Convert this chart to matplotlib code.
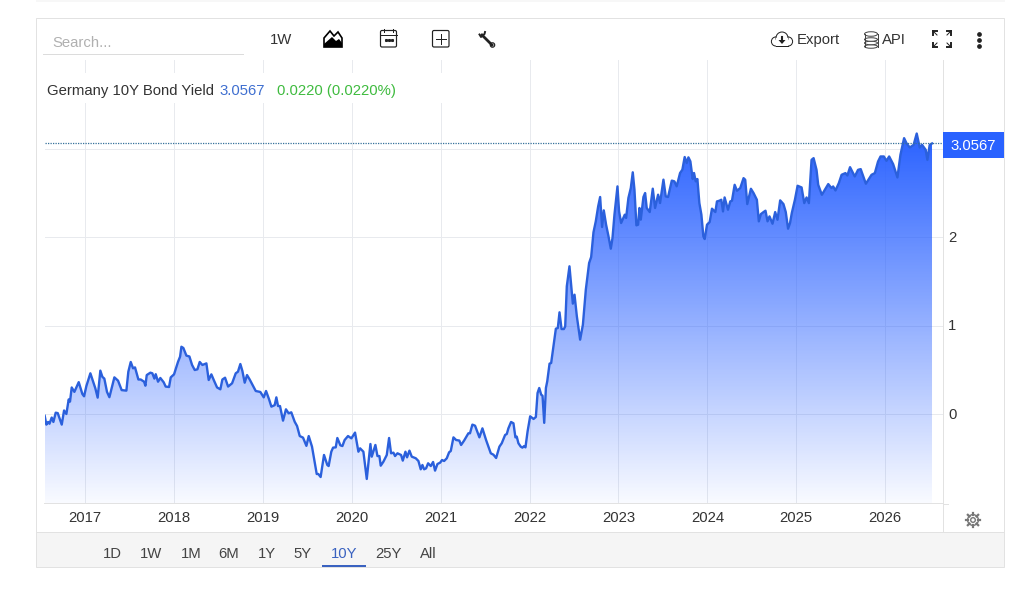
# -*- coding: utf-8 -*-
"""
Germany 10Y bond yield, area chart inside a trading widget frame
"""
# =============================     Import modules     =================
import numpy as np
import matplotlib
matplotlib.use('Agg')
import matplotlib.pyplot as plt
from matplotlib.patches import Rectangle, Polygon, Circle, Ellipse, FancyBboxPatch
from matplotlib.transforms import ScaledTranslation

# =============================     Chart data     =======================
# -- decimal years and yields
years_a = [2016.546, 2016.565, 2016.584, 2016.60, 2016.625, 2016.644, 2016.67, 2016.693, 2016.738, 2016.764,
           2016.79, 2016.816, 2016.831, 2016.85, 2016.88, 2016.929, 2016.97, 2016.989, 2017.015, 2017.06,
           2017.116, 2017.142, 2017.172, 2017.195, 2017.217, 2017.247, 2017.274, 2017.33, 2017.371, 2017.412,
           2017.465, 2017.487, 2017.514, 2017.54, 2017.562, 2017.60, 2017.626, 2017.664, 2017.679, 2017.694,
           2017.735, 2017.757, 2017.78, 2017.795, 2017.821, 2017.847, 2017.885, 2017.907, 2017.945, 2017.964,
           2018.001, 2018.046, 2018.069, 2018.084, 2018.106, 2018.14, 2018.174, 2018.204, 2018.234, 2018.264,
           2018.29, 2018.32, 2018.365, 2018.391, 2018.421, 2018.451, 2018.485, 2018.522, 2018.545, 2018.575,
           2018.609, 2018.654, 2018.695, 2018.72, 2018.747, 2018.77, 2018.796, 2018.822, 2018.852, 2018.92,
           2018.972, 2019.01, 2019.036, 2019.07, 2019.096, 2019.133, 2019.152, 2019.171, 2019.193, 2019.227,
           2019.26, 2019.29, 2019.32, 2019.358, 2019.385, 2019.415, 2019.452, 2019.49, 2019.516, 2019.553,
           2019.606, 2019.624, 2019.65, 2019.688, 2019.725, 2019.74, 2019.77, 2019.79, 2019.82, 2019.838,
           2019.872, 2019.895, 2019.92, 2019.958, 2019.996]
values_a = [-0.02, -0.12, -0.09, -0.11, -0.04, -0.09, 0.015, 0.01, -0.12, 0.04,
            0.0, 0.165, 0.14, 0.30, 0.25, 0.36, 0.226, 0.20, 0.316, 0.46,
            0.29, 0.185, 0.49, 0.42, 0.40, 0.25, 0.19, 0.414, 0.377, 0.27,
            0.264, 0.478, 0.588, 0.516, 0.527, 0.39, 0.39, 0.365, 0.32, 0.44,
            0.467, 0.46, 0.40, 0.45, 0.365, 0.407, 0.358, 0.31, 0.305, 0.414,
            0.448, 0.59, 0.648, 0.76, 0.746, 0.66, 0.65, 0.554, 0.497, 0.505,
            0.588, 0.554, 0.572, 0.384, 0.448, 0.377, 0.30, 0.279, 0.39, 0.41,
            0.31, 0.347, 0.46, 0.478, 0.565, 0.486, 0.354, 0.44, 0.39, 0.26,
            0.249, 0.188, 0.26, 0.166, 0.083, 0.10, 0.188, 0.09, 0.09, -0.075,
            0.053, 0.008, 0.019, -0.087, -0.136, -0.249, -0.267, -0.36, -0.249, -0.369,
            -0.678, -0.678, -0.712, -0.463, -0.576, -0.588, -0.426, -0.38, -0.377, -0.271,
            -0.354, -0.362, -0.294, -0.249, -0.275]

years_b = [2020.037, 2020.075, 2020.094, 2020.131, 2020.169, 2020.21, 2020.225, 2020.266, 2020.289, 2020.311,
           2020.326, 2020.356, 2020.394, 2020.42, 2020.442, 2020.469, 2020.487, 2020.514, 2020.555, 2020.574,
           2020.604, 2020.622, 2020.649, 2020.675, 2020.72, 2020.75, 2020.776, 2020.795, 2020.814, 2020.836,
           2020.859, 2020.889, 2020.915, 2020.937, 2020.964, 2020.994, 2021.016, 2021.039, 2021.069, 2021.095,
           2021.114, 2021.144, 2021.174, 2021.21, 2021.23, 2021.264, 2021.312, 2021.33, 2021.357, 2021.387,
           2021.436, 2021.47, 2021.511, 2021.564, 2021.594, 2021.624, 2021.661, 2021.687, 2021.725, 2021.744,
           2021.762, 2021.792, 2021.819, 2021.841, 2021.856, 2021.875, 2021.901, 2021.92, 2021.939, 2021.954,
           2021.978]
values_b = [-0.21, -0.426, -0.388, -0.426, -0.734, -0.339, -0.482, -0.35, -0.475, -0.475,
            -0.584, -0.539, -0.463, -0.271, -0.444, -0.437, -0.475, -0.444, -0.463, -0.527,
            -0.426, -0.49, -0.414, -0.482, -0.50, -0.531, -0.625, -0.576, -0.625, -0.614,
            -0.557, -0.588, -0.542, -0.64, -0.565, -0.55, -0.52, -0.531, -0.50, -0.433,
            -0.418, -0.264, -0.294, -0.30, -0.35, -0.30, -0.218, -0.218, -0.12, -0.132,
            -0.264, -0.162, -0.294, -0.444, -0.46, -0.497, -0.369, -0.331, -0.237, -0.226,
            -0.162, -0.09, -0.105, -0.264, -0.256, -0.331, -0.369, -0.38, -0.362, -0.377,
            -0.196]

years_c = [2022.007, 2022.045, 2022.071, 2022.09, 2022.109, 2022.131, 2022.146, 2022.165, 2022.184, 2022.199,
           2022.225, 2022.243, 2022.296, 2022.318, 2022.337, 2022.36, 2022.386, 2022.401, 2022.419, 2022.449,
           2022.487, 2022.506, 2022.532, 2022.569, 2022.6, 2022.633, 2022.67, 2022.693, 2022.719, 2022.745,
           2022.772, 2022.794, 2022.816, 2022.835, 2022.861, 2022.888, 2022.914, 2022.933, 2022.955, 2022.989,
           2023.007, 2023.03, 2023.071, 2023.086, 2023.112, 2023.139, 2023.161, 2023.18, 2023.202, 2023.221,
           2023.236, 2023.251, 2023.281, 2023.3, 2023.318, 2023.352, 2023.386, 2023.412, 2023.446, 2023.468,
           2023.506, 2023.532, 2023.558, 2023.6, 2023.629, 2023.655, 2023.693, 2023.719, 2023.745, 2023.768,
           2023.787, 2023.809, 2023.835, 2023.85, 2023.869, 2023.888, 2023.91, 2023.933, 2023.955, 2023.97]
values_c = [-0.026, -0.056, -0.034, 0.237, 0.294, 0.218, 0.207, -0.10, 0.294, 0.369,
            0.569, 0.576, 0.964, 0.972, 1.149, 0.96, 0.96, 0.99, 1.443, 1.669,
            1.247, 1.348, 1.104, 0.84, 1.009, 1.405, 1.706, 1.774, 2.053, 2.177,
            2.347, 2.452, 2.113, 2.301, 2.139, 2.008, 1.868, 1.989, 2.252, 2.572,
            2.29, 2.158, 2.252, 2.215, 2.441, 2.554, 2.731, 2.535, 2.132, 2.139,
            2.328, 2.196, 2.452, 2.497, 2.328, 2.282, 2.546, 2.328, 2.478, 2.384,
            2.648, 2.459, 2.452, 2.637, 2.629, 2.573, 2.723, 2.761, 2.904, 2.836,
            2.9, 2.855, 2.655, 2.723, 2.629, 2.655, 2.384, 2.252, 2.008, 1.977]

years_d = [2023.996, 2024.026, 2024.052, 2024.09, 2024.108, 2024.135, 2024.157, 2024.176, 2024.194, 2024.232,
           2024.258, 2024.277, 2024.307, 2024.333, 2024.37, 2024.407, 2024.426, 2024.449, 2024.49, 2024.52,
           2024.557, 2024.579, 2024.602, 2024.632, 2024.654, 2024.677, 2024.699, 2024.733, 2024.763, 2024.789,
           2024.819, 2024.856, 2024.882, 2024.908, 2024.93, 2024.95, 2024.985, 2025.015, 2025.06, 2025.09,
           2025.116, 2025.142, 2025.172, 2025.195, 2025.228, 2025.247, 2025.288, 2025.322, 2025.36, 2025.396,
           2025.415, 2025.441, 2025.479, 2025.51, 2025.553, 2025.575, 2025.605, 2025.658, 2025.695, 2025.725,
           2025.783, 2025.847, 2025.884, 2025.92, 2025.948, 2025.985, 2026.015, 2026.045, 2026.09, 2026.138,
           2026.172, 2026.213, 2026.24, 2026.277, 2026.32, 2026.355, 2026.389, 2026.415, 2026.456, 2026.475,
           2026.501, 2026.527]
values_d = [2.139, 2.169, 2.32, 2.282, 2.402, 2.41, 2.421, 2.289, 2.447, 2.308,
            2.402, 2.41, 2.59, 2.523, 2.553, 2.665, 2.647, 2.372, 2.545, 2.496,
            2.421, 2.177, 2.259, 2.282, 2.297, 2.177, 2.233, 2.15, 2.282, 2.195,
            2.414, 2.372, 2.282, 2.094, 2.158, 2.271, 2.421, 2.579, 2.56, 2.383,
            2.447, 2.383, 2.872, 2.891, 2.759, 2.59, 2.477, 2.534, 2.598, 2.553,
            2.571, 2.526, 2.609, 2.703, 2.722, 2.695, 2.789, 2.684, 2.759, 2.767,
            2.602, 2.703, 2.722, 2.853, 2.91, 2.91, 2.861, 2.91, 2.823, 2.673,
            2.929, 3.117, 3.06, 3.011, 3.041, 3.169, 3.011, 3.041, 2.985, 2.872,
            3.041, 3.0567]

x_ticks = [2017, 2018, 2019, 2020, 2021, 2022, 2023, 2024, 2025, 2026]
y_ticks = [0, 1, 2, 3]
y_tick_labels = ['0', '1', '2']
last_value = 3.0567
title_name = 'Germany 10Y Bond Yield'
title_last = '3.0567'
title_change = '0.0220 (0.0220%)'
range_labels = ['1D', '1W', '1M', '6M', '1Y', '5Y', '10Y', '25Y', 'All']
range_pos = [112, 151, 191, 229, 267, 303, 344, 388, 428]

# ====================   Settings   ======================================
W, H = 1021, 590
x_min, x_max = 2016.544, 2026.645
y_min, y_max = -1.0056, 4.0
c_line = '#2b60dc'
c_fill = (0.161, 0.384, 1.0)
c_grid = '#e8eaee'
c_edge = '#e2e2e2'
c_text = '#333333'
c_icon = '#222222'
c_blue = '#2962ff'
px = 0.72       # one pixel line width at dpi 100
fs = 10.7

plt.rcParams['font.family'] = ['Liberation Sans', 'DejaVu Sans']


def box(ax, x0, y0, x1, y1, **kw):
    """ Rectangle given by widget pixel corners """
    ax.add_patch(Rectangle((x0, y0), x1 - x0, y1 - y0, **kw))


# =============================    Main program   ======================
if __name__ == '__main__':
    fig = plt.figure(figsize=(W / 100, H / 100), dpi=100, facecolor='white')

    # -- Chart area
    ax = fig.add_axes([44.5 / W, 1 - 503 / H, (943 - 45) / W, (503 - 60) / H])
    years = np.array(years_a + years_b + years_c + years_d)
    values = np.array(values_a + values_b + values_c + values_d)

    ax.set_xlim(x_min, x_max)
    ax.set_ylim(y_min, y_max)
    ax.set_xticks(x_ticks)
    ax.set_yticks(y_ticks)
    ax.set_xticklabels(x_ticks, fontsize=fs, color=c_text)
    ax.set_yticklabels(y_tick_labels + [''], fontsize=fs, color=c_text)
    ax.yaxis.tick_right()
    ax.tick_params(axis='both', length=0)
    ax.tick_params(axis='x', pad=5.5)
    ax.tick_params(axis='y', pad=4)
    up = ScaledTranslation(0, 0.7 / 72, fig.dpi_scale_trans)
    for lab in ax.get_yticklabels():
        lab.set_transform(lab.get_transform() + up)
    ax.grid(True, color=c_grid, lw=px)
    ax.set_axisbelow(True)
    for side in ['top', 'left']:
        ax.spines[side].set_visible(False)
    ax.spines['right'].set_color(c_edge)
    ax.spines['bottom'].set_color(c_edge)
    ax.spines['right'].set_linewidth(px)
    ax.spines['bottom'].set_linewidth(px)

    # -- Area with vertical gradient, strongest at the series maximum
    poly = ax.fill_between(years, values, y_min, facecolor='none', edgecolor='none')
    rgba = np.ones((256, 1, 4))
    rgba[:, 0, :3] = c_fill
    rgba[:, 0, 3] = np.linspace(1.0, 0.03, 256)
    im = ax.imshow(rgba, extent=[x_min, x_max, y_min, values.max()], aspect='auto',
                   origin='upper', zorder=2)
    im.set_clip_path(poly.get_paths()[0], transform=ax.transData)
    ax.set_xlim(x_min, x_max)
    ax.set_ylim(y_min, y_max)

    ax.plot(years, values, color=c_line, lw=1.7, zorder=3, solid_joinstyle='round')
    ax.axhline(last_value, color='#35709a', lw=0.9, ls=(0, (1, 1)), zorder=4)

    # -- Widget frame drawn on a pixel canvas
    ui = fig.add_axes([0, 0, 1, 1], zorder=5)
    ui.set_xlim(0, W)
    ui.set_ylim(H, 0)
    ui.axis('off')
    ui.patch.set_alpha(0)

    box(ui, 36, 0, 1005, 2, facecolor='#f7f7f7', edgecolor='none')
    box(ui, 36, 532, 1004, 567, facecolor='#f5f5f5', edgecolor='none')
    box(ui, 35.5, 17.5, 1003.5, 566.5, facecolor='none', edgecolor=c_edge, lw=px)
    ui.plot([36, 1003], [531.5, 531.5], color=c_edge, lw=px)
    ui.plot([942.5, 942.5], [503, 532], color=c_edge, lw=px)
    ui.plot([943, 948], [503.5, 503.5], color=c_edge, lw=px)

    # -- Search box and toolbar
    ui.text(52, 43, 'Search...', fontsize=fs, color='#b0b0b0', va='center')
    ui.plot([43, 243], [53.5, 53.5], color='#dcdcdc', lw=px)
    ui.text(281, 40, '1W', fontsize=fs, color=c_text, ha='center', va='center')

    # mountain icon
    ui.add_patch(Polygon([(324, 47), (324, 38), (330, 31), (334, 36), (338, 32), (342, 38), (342, 47)],
                         closed=True, facecolor='white', edgecolor='black', lw=1.2))
    ui.add_patch(Polygon([(324, 47), (324, 44), (332, 37), (336, 41), (339, 39), (342, 43), (342, 47)],
                         closed=True, facecolor='black', edgecolor='none'))
    # calendar icon
    ui.add_patch(FancyBboxPatch((380.5, 30.5), 16, 16.5, boxstyle='round,pad=0,rounding_size=1.5',
                                facecolor='white', edgecolor=c_icon, lw=px * 1.2))
    ui.plot([380.5, 396.5], [34.5, 34.5], color=c_icon, lw=px)
    ui.plot([384, 384], [29, 32], color=c_icon, lw=px)
    ui.plot([393, 393], [29, 32], color=c_icon, lw=px)
    ui.plot([385.5, 388.5, 391.5], [39.5, 39.5, 39.5], ls='none', marker='s', ms=1.2, color=c_icon)
    # plus icon
    ui.add_patch(FancyBboxPatch((432.5, 30.5), 16.5, 16.5, boxstyle='round,pad=0,rounding_size=1.5',
                                facecolor='white', edgecolor=c_icon, lw=px * 1.2))
    ui.plot([436, 445.5], [38.8, 38.8], color=c_icon, lw=px)
    ui.plot([440.7, 440.7], [34, 43.5], color=c_icon, lw=px)
    # wrench icon
    ui.plot([482, 492], [35, 45], color=c_icon, lw=2)
    ui.plot([479.5, 481, 484.5, 485], [34.5, 37, 34, 32], color=c_icon, lw=1.4)
    ui.add_patch(Circle((492.5, 45), 2.2, facecolor='white', edgecolor=c_icon, lw=px * 1.2))

    # cloud icon
    ui.add_patch(Circle((776, 41.5), 4.6, facecolor='white', edgecolor=c_icon, lw=px))
    ui.add_patch(Circle((788, 41.5), 4.6, facecolor='white', edgecolor=c_icon, lw=px))
    ui.add_patch(Circle((782, 38), 6, facecolor='white', edgecolor=c_icon, lw=px))
    box(ui, 776, 38, 788, 45.6, facecolor='white', edgecolor='none')
    ui.plot([776, 788], [46, 46], color=c_icon, lw=px)
    ui.add_patch(Polygon([(778.5, 40), (785.5, 40), (782, 44)], closed=True, facecolor=c_icon, edgecolor='none'))
    ui.plot([782, 782], [37, 41], color=c_icon, lw=1.5)
    ui.text(797, 40, 'Export', fontsize=fs, color=c_text, va='center')

    # database icon
    for yy in [43, 39.5, 36]:
        ui.add_patch(Rectangle((864.5, yy), 13, 3.5, facecolor='white', edgecolor='none'))
        ui.add_patch(Ellipse((871, yy + 3.5), 13, 3.5, facecolor='white', edgecolor='#444444', lw=px))
    ui.add_patch(Ellipse((871, 34), 13, 4.5, facecolor='white', edgecolor='#444444', lw=px))
    ui.plot([864.5, 864.5], [34, 46.5], color='#444444', lw=px)
    ui.plot([877.5, 877.5], [34, 46.5], color='#444444', lw=px)
    ui.text(882, 40, 'API', fontsize=fs, color=c_text, va='center')

    # fullscreen icon
    for sx, sy, ex, ey in [(933, 31, 937, 35), (951, 31, 947, 35), (933, 47, 937, 43), (951, 47, 947, 43)]:
        ui.plot([sx, ex], [sy, ey], color=c_icon, lw=px)
        ui.plot([sx, sx + (ex - sx) * 0.9], [sy, sy], color=c_icon, lw=1.4)
        ui.plot([sx, sx], [sy, sy + (ey - sy) * 0.9], color=c_icon, lw=1.4)
    # menu dots
    ui.plot([979, 979, 979], [33.5, 40, 46], ls='none', marker='o', ms=2.4, color=c_icon)

    # -- Title row hides the gridlines behind it
    box(ui, 45, 73, 500, 103, facecolor='white', edgecolor='none')
    ui.text(47, 95, title_name, fontsize=fs, color=c_text, va='baseline')
    ui.text(219, 95, title_last, fontsize=fs, color='#3f6fd0', va='baseline')
    ui.text(277, 95, title_change, fontsize=fs, color='#3fbb3f', va='baseline')

    # -- Last value tag
    box(ui, 943, 132, 1004, 158, facecolor=c_blue, edgecolor='none')
    ui.text(973.5, 146, f'{last_value:.4f}', fontsize=fs, color='white', ha='center', va='center')

    # -- Gear icon
    for ang in np.arange(0, 360, 45):
        ca, sa = np.cos(np.radians(ang)), np.sin(np.radians(ang))
        ui.plot([973 + 5 * ca, 973 + 7.3 * ca], [520 + 5 * sa, 520 + 7.3 * sa], color='#777777', lw=1.6)
    ui.add_patch(Circle((973, 520), 5.4, facecolor='white', edgecolor='#777777', lw=1))
    ui.add_patch(Circle((973, 520), 2.3, facecolor='white', edgecolor='#777777', lw=1))

    # -- Range selector
    for lab, xp in zip(range_labels, range_pos):
        col = '#3a62c0' if lab == '10Y' else '#444444'
        ui.text(xp, 554, lab, fontsize=fs, color=col, ha='center', va='center')
    box(ui, 322, 565, 366, 567, facecolor='#3a62c0', edgecolor='none')

    plt.savefig('out.png', dpi=100)
# =============================    End of program   =====================
